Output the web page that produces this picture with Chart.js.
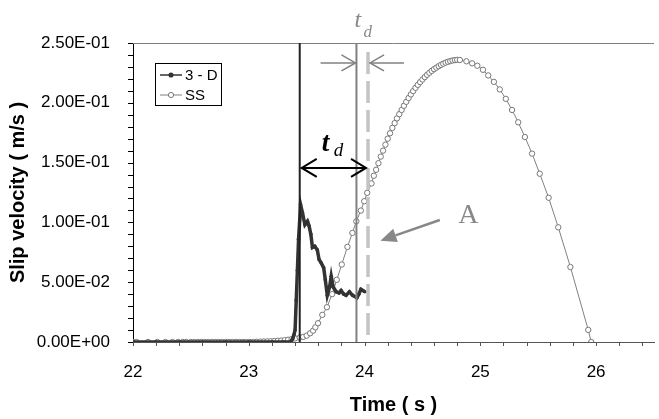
<!DOCTYPE html>
<html>
<head>
<meta charset="utf-8">
<script src="https://cdn.jsdelivr.net/npm/chart.js@4.4.1/dist/chart.umd.min.js"></script>
<style>
  html, body { margin: 0; padding: 0; background: #fff; }
</style>
</head>
<body>
<canvas id="grafico" width="659" height="419"></canvas>
<script>
// Datos
const tiempo3D = [22.00, 22.20, 22.40, 22.60, 22.80, 23.00, 23.20, 23.30, 23.36, 23.38, 23.39, 23.40, 23.41, 23.42, 23.43, 23.44,
  23.447, 23.464, 23.485, 23.507, 23.521, 23.536, 23.550, 23.570, 23.592, 23.607, 23.626, 23.647, 23.661, 23.678, 23.698,
  23.712, 23.729, 23.755, 23.780, 23.797, 23.820, 23.840, 23.869, 23.897, 23.934, 23.950, 23.968, 23.985, 24.003];
const vel3D = [0, 0, 0, 0, 0, 0, 0, 0, 0, 0.003, 0.006, 0.010, 0.035, 0.060, 0.086, 0.102,
  0.115, 0.108, 0.098, 0.101, 0.097, 0.090, 0.079, 0.080, 0.077, 0.069, 0.066, 0.062, 0.052, 0.039, 0.046,
  0.055, 0.046, 0.042, 0.041, 0.043, 0.040, 0.039, 0.042, 0.039, 0.037, 0.040, 0.044, 0.043, 0.042];

const tiempoSS = [22.00, 22.03, 22.13, 22.21, 22.28, 22.34, 22.39, 22.43, 22.46, 22.50, 22.53, 22.56, 22.59, 22.62, 22.65,
  22.68, 22.71, 22.74, 22.77, 22.80, 22.83, 22.86, 22.89, 22.92, 22.95, 22.98, 23.01, 23.04, 23.07, 23.10, 23.13, 23.16,
  23.19, 23.22, 23.25, 23.28, 23.31, 23.34, 23.37, 23.40, 23.44, 23.47, 23.50, 23.53, 23.556, 23.575, 23.598, 23.635,
  23.675, 23.72, 23.76, 23.803, 23.852, 23.895, 23.929, 23.968, 23.997, 24.023, 24.060,
  24.08, 24.10, 24.12, 24.14, 24.16, 24.18, 24.20, 24.22, 24.24, 24.26, 24.28, 24.30, 24.32, 24.34, 24.36, 24.38,
  24.40, 24.42, 24.44, 24.46, 24.48, 24.50, 24.52, 24.54, 24.56, 24.58, 24.60, 24.62, 24.64, 24.66, 24.68, 24.70,
  24.72, 24.74, 24.76, 24.78, 24.80, 24.823, 24.880,
  24.929, 24.974, 25.023, 25.068, 25.117, 25.168, 25.220, 25.274, 25.327, 25.385, 25.447, 25.513, 25.590, 25.673,
  25.778, 25.932, 25.958];
const velSS = [0, 0, 0, 0, 0, 0, 0, 0, 0, 0, 0, 0, 0, 0, 0,
  0, 0, 0, 0, 0, 0, 0, 0, 0, 0, 0, 0, 0, 0.0002, 0.0003, 0.0004, 0.0005,
  0.0006, 0.0008, 0.0010, 0.0012, 0.0015, 0.0019, 0.0024, 0.0030, 0.0037, 0.0043, 0.0053, 0.0073, 0.0095, 0.0123, 0.0157, 0.0227,
  0.0291, 0.040, 0.052, 0.0648, 0.0795, 0.0912, 0.1009, 0.1099, 0.1177, 0.1247, 0.1326,
  0.1390, 0.1440, 0.1495, 0.1550, 0.1600, 0.1650, 0.1700, 0.1745, 0.1790, 0.1830, 0.1870, 0.1905, 0.1940, 0.1975, 0.2008, 0.2040,
  0.2070, 0.2098, 0.2125, 0.2150, 0.2173, 0.2195, 0.2215, 0.2234, 0.2251, 0.2267, 0.2281, 0.2294, 0.2306, 0.2317, 0.2327, 0.2336,
  0.2343, 0.2349, 0.2354, 0.2357, 0.2359, 0.2358, 0.2347,
  0.2330, 0.2310, 0.2276, 0.2229, 0.2175, 0.2112, 0.2033, 0.1940, 0.1837, 0.1714, 0.1575, 0.1407, 0.1206, 0.0959,
  0.0627, 0.0101, 0];

const etiquetas = ['3 - D', 'SS'];
const ticksX = [22, 23, 24, 25, 26];
const ticksY = [0, 0.05, 0.10, 0.15, 0.20, 0.25];
const etiquetasY = ['0.00E+00', '5.00E-02', '1.00E-01', '1.50E-01', '2.00E-01', '2.50E-01'];

// Posiciones de las marcas auxiliares (en unidades del gráfico)
const tInicio = 23.44;      // línea negra
const tSS = 23.93;          // línea gris
const tDesfase = 24.03;     // línea discontinua

const fuente = "'Liberation Sans', Arial, sans-serif";
const serif = "'Liberation Serif', 'Times New Roman', serif";

function flecha(ctx, x1, y1, x2, y2, largo, ancho, relleno) {
  const ang = Math.atan2(y2 - y1, x2 - x1);
  const bx = x2 - largo * Math.cos(ang), by = y2 - largo * Math.sin(ang);
  const px = ancho * Math.sin(ang), py = -ancho * Math.cos(ang);
  ctx.beginPath();
  ctx.moveTo(x1, y1);
  ctx.lineTo(relleno ? bx : x2, relleno ? by : y2);
  ctx.stroke();
  ctx.beginPath();
  ctx.moveTo(bx + px, by + py);
  ctx.lineTo(x2, y2);
  ctx.lineTo(bx - px, by - py);
  if (relleno) { ctx.closePath(); ctx.fill(); } else ctx.stroke();
}

const extras = {
  id: 'extras',
  beforeDatasetsDraw(chart) {
    const { ctx, chartArea: a, scales: { x, y } } = chart;
    ctx.save();
    // línea superior
    ctx.strokeStyle = '#808080';
    ctx.lineWidth = 1;
    ctx.beginPath();
    ctx.moveTo(a.left, Math.round(a.top) + 0.5);
    ctx.lineTo(a.right, Math.round(a.top) + 0.5);
    ctx.stroke();
    // marcas menores y mayores
    ctx.strokeStyle = '#000';
    for (let v = 0; v <= 0.2501; v += 0.01) {
      const py = Math.round(y.getPixelForValue(v)) + 0.5;
      ctx.beginPath(); ctx.moveTo(a.left - 5, py); ctx.lineTo(a.left, py); ctx.stroke();
    }
    ctx.strokeStyle = '#555';
    for (let t = 22; t <= 26.501; t += 0.2) {
      const px = Math.round(x.getPixelForValue(t)) + 0.5;
      ctx.beginPath(); ctx.moveTo(px, a.bottom); ctx.lineTo(px, a.bottom + 4); ctx.stroke();
    }
    ctx.restore();
  },
  afterDatasetsDraw(chart) {
    const { ctx, chartArea: a, scales: { x, y } } = chart;
    ctx.save();
    const xi = x.getPixelForValue(tInicio);
    const xs = x.getPixelForValue(tSS);
    const xd = x.getPixelForValue(tDesfase);

    ctx.lineWidth = 2;
    ctx.strokeStyle = '#222';
    ctx.beginPath(); ctx.moveTo(xi, a.top); ctx.lineTo(xi, a.bottom); ctx.stroke();
    ctx.strokeStyle = '#808080';
    ctx.beginPath(); ctx.moveTo(xs, a.top); ctx.lineTo(xs, a.bottom); ctx.stroke();

    ctx.strokeStyle = '#c4c4c4';
    ctx.lineWidth = 3.5;
    ctx.setLineDash([22, 7]);
    ctx.beginPath(); ctx.moveTo(xd, a.top + 9); ctx.lineTo(xd, a.bottom); ctx.stroke();
    ctx.setLineDash([]);

    // flechas superiores
    const ya = y.getPixelForValue(0.2333);
    ctx.strokeStyle = '#808080';
    ctx.fillStyle = '#808080';
    ctx.lineWidth = 1.5;
    flecha(ctx, x.getPixelForValue(23.62), ya, xs - 1, ya, 14, 8, false);
    flecha(ctx, x.getPixelForValue(24.34), ya, xd + 2, ya, 14, 8, false);

    // flecha doble negra
    const yb = y.getPixelForValue(0.1455);
    ctx.strokeStyle = '#000';
    ctx.lineWidth = 2;
    flecha(ctx, xi + 2, yb, xd - 2, yb, 15, 9, false);
    flecha(ctx, xd - 2, yb, xi + 2, yb, 15, 9, false);

    // flecha A
    ctx.strokeStyle = '#888';
    ctx.fillStyle = '#888';
    ctx.lineWidth = 2.5;
    flecha(ctx, x.getPixelForValue(24.65), y.getPixelForValue(0.102),
      x.getPixelForValue(24.137), y.getPixelForValue(0.0847), 16, 7, true);

    // textos
    ctx.textBaseline = 'alphabetic';
    ctx.textAlign = 'left';
    ctx.fillStyle = '#000';
    ctx.font = 'italic bold 27px ' + serif;
    ctx.fillText('t', xi + 22, yb - 17);
    ctx.font = 'italic 19px ' + serif;
    ctx.fillText('d', xi + 34, yb - 12);

    ctx.fillStyle = '#888';
    ctx.font = 'italic 24px ' + serif;
    ctx.fillText('t', xs - 2, 27);
    ctx.font = 'italic 17px ' + serif;
    ctx.fillText('d', xs + 7, 37);

    ctx.font = '28px ' + serif;
    ctx.fillText('A', x.getPixelForValue(24.81), y.getPixelForValue(0.0995));

    // leyenda
    const lx = 155.5, ly = 63.5;
    ctx.fillStyle = '#fff';
    ctx.fillRect(lx, ly, 66, 42);
    ctx.strokeStyle = '#000';
    ctx.lineWidth = 1;
    ctx.strokeRect(lx, ly, 66, 42);
    const ds = chart.data.datasets;
    const filas = [75, 95];
    ds.forEach((d, i) => {
      const fy = filas[i];
      ctx.strokeStyle = d.borderColor;
      ctx.lineWidth = i === 0 ? 1.5 : 1;
      ctx.beginPath(); ctx.moveTo(160, fy); ctx.lineTo(182, fy); ctx.stroke();
      ctx.beginPath();
      ctx.arc(171, fy, i === 0 ? 1.8 : 2.6, 0, Math.PI * 2);
      ctx.fillStyle = d.pointBackgroundColor;
      ctx.fill();
      ctx.strokeStyle = d.pointBorderColor;
      ctx.stroke();
      ctx.fillStyle = '#000';
      ctx.font = '15px ' + fuente;
      ctx.textBaseline = 'middle';
      ctx.fillText(d.label, 185, fy + 1);
    });

    // títulos de ejes
    ctx.fillStyle = '#000';
    ctx.font = 'bold 20px ' + fuente;
    ctx.textAlign = 'center';
    ctx.textBaseline = 'middle';
    ctx.fillText('Time ( s )', (a.left + a.right) / 2, 405);
    ctx.translate(18, (a.top + a.bottom) / 2);
    ctx.rotate(-Math.PI / 2);
    ctx.fillText('Slip velocity ( m/s )', 0, 0);
    ctx.restore();
  }
};

const ctx = document.getElementById('grafico').getContext('2d');
new Chart(ctx, {
  type: 'scatter',
  data: {
    datasets: [
      {
        label: etiquetas[0],
        data: tiempo3D.map((t, i) => ({ x: t, y: vel3D[i] })),
        showLine: true,
        borderColor: '#333',
        borderWidth: 3.5,
        pointRadius: 1.8,
        pointBackgroundColor: '#333',
        pointBorderColor: '#333',
        pointBorderWidth: 0
      },
      {
        label: etiquetas[1],
        data: tiempoSS.map((t, i) => ({ x: t, y: velSS[i] })),
        showLine: true,
        borderColor: '#808080',
        borderWidth: 1,
        pointRadius: 2.7,
        pointBackgroundColor: '#fff',
        pointBorderColor: '#777',
        pointBorderWidth: 1
      }
    ]
  },
  options: {
    responsive: false,
    animation: false,
    layout: { padding: { top: 43, right: 0, left: 0, bottom: 0 } },
    plugins: { legend: { display: false }, tooltip: { enabled: false } },
    elements: { line: { tension: 0 } },
    scales: {
      x: {
        type: 'linear',
        min: 22,
        max: 26.5,
        afterFit: s => { s.height = 77; },
        afterBuildTicks: s => { s.ticks = ticksX.map(v => ({ value: v })); },
        grid: { display: false },
        border: { color: '#555', width: 1 },
        ticks: { color: '#000', padding: 12, font: { family: fuente, size: 17 }, maxRotation: 0 }
      },
      y: {
        min: 0,
        max: 0.25,
        afterFit: s => { s.width = 133; },
        afterBuildTicks: s => { s.ticks = ticksY.map(v => ({ value: v })); },
        grid: { display: false },
        border: { color: '#000', width: 1 },
        ticks: {
          color: '#000',
          padding: 15,
          font: { family: fuente, size: 17 },
          callback: (v, i) => etiquetasY[i]
        }
      }
    }
  },
  plugins: [extras]
});
</script>
</body>
</html>
